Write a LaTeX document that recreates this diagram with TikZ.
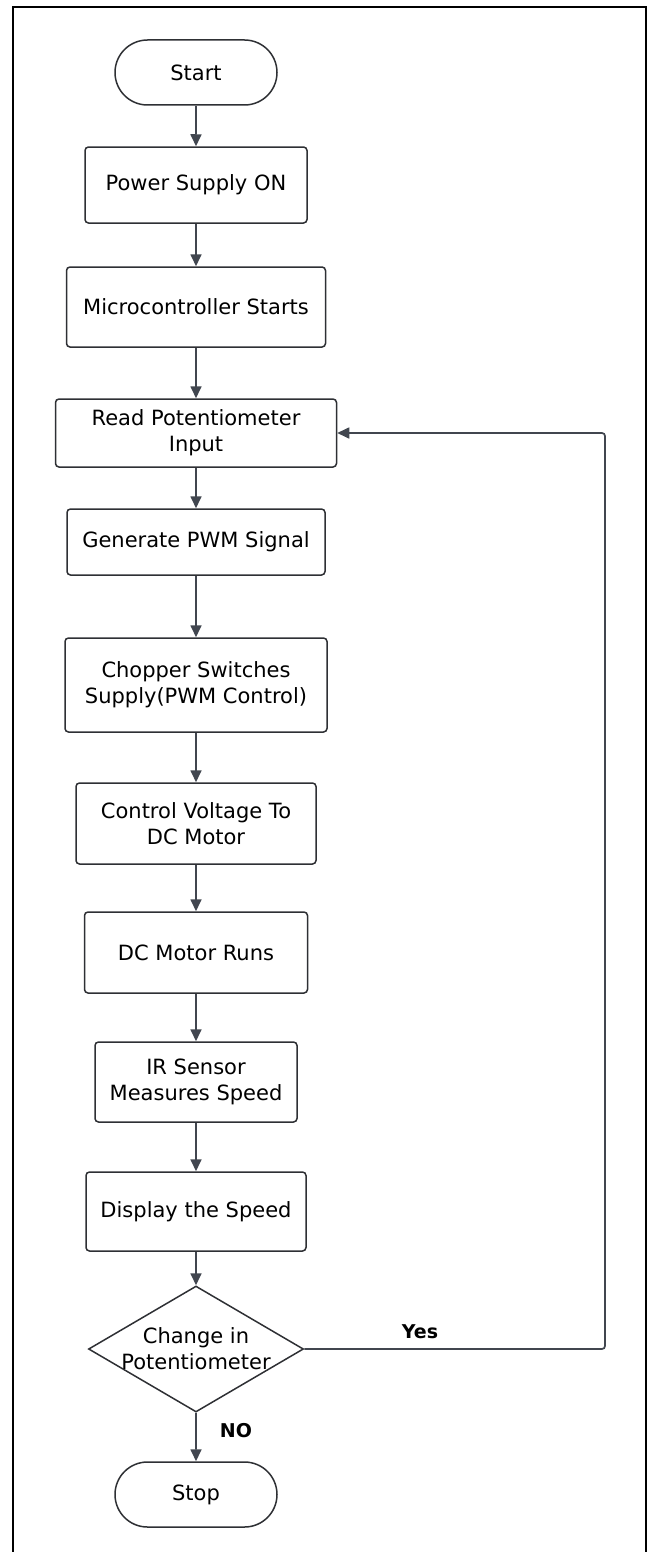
\documentclass[tikz,border=0pt]{standalone}
\usepackage{fontspec}
\setmainfont{DejaVu Sans}
\usepackage{tikz}
\usetikzlibrary{arrows.meta,positioning,shapes.geometric,shapes.misc}

\definecolor{boxline}{HTML}{2E3034}
\definecolor{flowline}{HTML}{41464F}

\begin{document}
\begin{tikzpicture}[
  x=1pt,y=-1pt,
  >={Triangle[length=12pt,width=11pt]},
  box/.style={draw=boxline,line width=1.5pt,rounded corners=3.5pt,align=center,inner sep=0pt},
  term/.style={draw=boxline,line width=1.5pt,rounded rectangle,align=center,inner sep=0pt,minimum width=162pt,minimum height=65pt},
  dec/.style={draw=boxline,line width=1.5pt,diamond,aspect=1.7,align=center,inner sep=-5pt,minimum width=215pt,minimum height=126pt},
  flow/.style={draw=flowline,line width=1.7pt,->},
  lbl/.style={font=\fontsize{19}{22}\selectfont\bfseries},
  every node/.style={font=\fontsize{21}{26}\selectfont}
]
  \useasboundingbox (0,0) rectangle (651,1552);
  % outer frame, cut off at the bottom
  \draw[line width=2pt,black] (13,1552) -- (13,7) -- (646,7) -- (646,1552);

  \node[term] (start) at (196,72.5) {Start};
  \node[box,minimum width=222pt,minimum height=76pt] (power) at (196,185)    {Power Supply ON};
  \node[box,minimum width=259pt,minimum height=80pt] (micro) at (196,307)    {Microcontroller Starts};
  \node[box,minimum width=281pt,minimum height=68pt] (read)  at (196,433)    {Read Potentiometer\\Input};
  \node[box,minimum width=258pt,minimum height=66pt] (pwm)   at (196,542)    {Generate PWM Signal};
  \node[box,minimum width=262pt,minimum height=94pt] (chop)  at (196,685)    {Chopper Switches\\Supply(PWM Control)};
  \node[box,minimum width=240pt,minimum height=81pt] (volt)  at (196,823.5)  {Control Voltage To\\DC Motor};
  \node[box,minimum width=223pt,minimum height=81pt] (run)   at (196,952.5)  {DC Motor Runs};
  \node[box,minimum width=202pt,minimum height=80pt] (ir)    at (196,1082)   {IR Sensor\\Measures Speed};
  \node[box,minimum width=220pt,minimum height=79pt] (disp)  at (196,1211.5) {Display the Speed};
  \node[dec] (chg) at (196,1349) {Change in\\Potentiometer};
  \node[term] (stop) at (196,1494.5) {Stop};

  \draw[flow](start)--(power); \draw[flow](power)--(micro);
  \draw[flow](micro)--(read);  \draw[flow](read)--(pwm);
  \draw[flow](pwm)--(chop);    \draw[flow](chop)--(volt);
  \draw[flow](volt)--(run);    \draw[flow](run)--(ir);
  \draw[flow](ir)--(disp);     \draw[flow](disp)--(chg);
  \draw[flow](chg)--(stop);

  % loop back to the potentiometer
  \coordinate (back) at (605,1349);
  \draw[flow,rounded corners=3pt](chg.east)--(back)|-(read.east);

  \node[lbl] (yes) at (420,1332) {Yes};
  \node[lbl] (no)  at (236,1431) {NO};
\end{tikzpicture}
\end{document}
